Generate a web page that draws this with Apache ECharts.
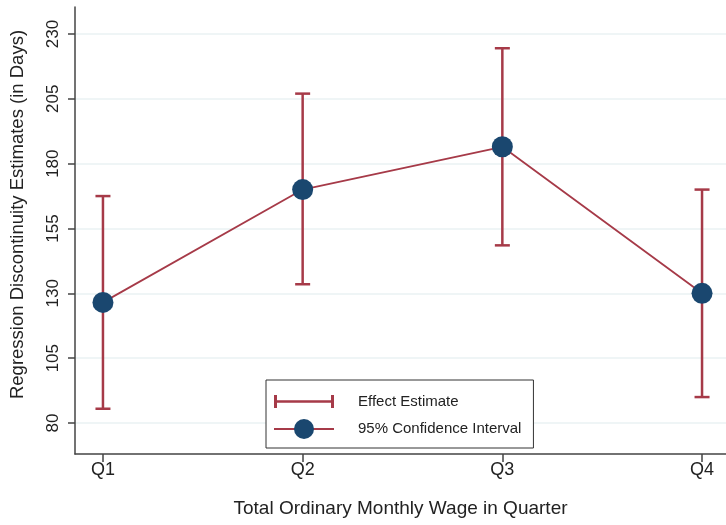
<!DOCTYPE html>
<html>
<head>
<meta charset="utf-8">
<title>Regression Discontinuity Estimates by Wage Quarter</title>
<script src="https://cdn.jsdelivr.net/npm/echarts@6/dist/echarts.min.js"></script>
<style>
    html, body { margin: 0; padding: 0; background: #ffffff; }
    #chart { width: 726px; height: 525px; }
</style>
</head>
<body>
<div id="chart"></div>
<script>
// quarters of total ordinary monthly wage
var categories = ['Q1', 'Q2', 'Q3', 'Q4'];
var positions = [1, 2, 3, 4];

// point estimates and 95% CI bounds (days)
var estimates = [126.5, 170, 186.5, 130];
var lower = [85.5, 133.5, 148.5, 90];
var upper = [167.5, 207, 224.5, 170];

var yTicks = [80, 105, 130, 155, 180, 205, 230];

var red = '#a63a48';
var navy = '#1a476f';
var font = 'Liberation Sans';

var pointData = [];
var barData = [];
for (var i = 0; i < positions.length; i++) {
    pointData.push([positions[i], estimates[i]]);
    barData.push([positions[i], lower[i], upper[i]]);
}

var renderErrorBar = function(params, api) {
    var x = api.value(0);
    var lo = api.coord([x, api.value(1)]);
    var hi = api.coord([x, api.value(2)]);
    var half = 7.5;
    var style = { stroke: red, lineWidth: 2.5, fill: null };
    return {
        type: 'group',
        children: [
            { type: 'line', shape: { x1: lo[0], y1: lo[1], x2: hi[0], y2: hi[1] }, style: style },
            { type: 'line', shape: { x1: lo[0] - half, y1: lo[1], x2: lo[0] + half, y2: lo[1] }, style: style },
            { type: 'line', shape: { x1: hi[0] - half, y1: hi[1], x2: hi[0] + half, y2: hi[1] }, style: style }
        ]
    };
};

var chart = echarts.init(document.getElementById('chart'), null, { renderer: 'canvas' });

var option = {
    backgroundColor: '#ffffff',
    animation: false,
    textStyle: { fontFamily: font },
    grid: { left: 75, right: 0, top: 7, bottom: 71, outerBoundsMode: 'none', containLabel: false },
    xAxis: {
        type: 'value',
        min: 0.86,
        max: 4.12,
        name: 'Total Ordinary Monthly Wage in Quarter',
        nameLocation: 'middle',
        nameGap: 45,
        nameTextStyle: { fontFamily: font, fontSize: 19, color: '#222222' },
        axisLine: { show: true, lineStyle: { color: '#444444', width: 1.5 } },
        axisTick: { show: true, length: 8, customValues: positions, lineStyle: { color: '#444444', width: 1.5 } },
        axisLabel: {
            customValues: positions,
            fontFamily: font,
            fontSize: 18,
            color: '#222222',
            margin: 7,
            formatter: function(v) {
                return categories[Math.round(v) - 1];
            }
        },
        splitLine: { show: false }
    },
    yAxis: {
        type: 'value',
        min: 68.05,
        max: 240.4,
        name: 'Regression Discontinuity Estimates (in Days)',
        nameLocation: 'middle',
        nameGap: 48,
        nameTextStyle: { fontFamily: font, fontSize: 18.5, color: '#222222', padding: [0, 0, 0, 32] },
        axisLine: { show: true, lineStyle: { color: '#444444', width: 1.5 } },
        axisTick: { show: true, length: 7, customValues: yTicks, lineStyle: { color: '#444444', width: 1.5 } },
        axisLabel: {
            customValues: yTicks,
            rotate: 90,
            fontFamily: font,
            fontSize: 17,
            color: '#222222',
            margin: 13
        },
        splitLine: { show: true, lineStyle: { color: '#eaf2f3', width: 1.5 } }
    },
    legend: {
        show: true,
        orient: 'vertical',
        left: 266,
        top: 380,
        padding: [9, 12, 9, 7],
        itemGap: 5,
        itemWidth: 60,
        itemHeight: 25,
        borderColor: '#333333',
        borderWidth: 1,
        backgroundColor: '#ffffff',
        textStyle: { fontFamily: font, fontSize: 15, color: '#222222', padding: [0, 0, 0, 19] },
        data: [
            {
                name: 'Effect Estimate',
                icon: 'path://M0,0 M0,6h3v13h-3z M0,11.3h60v2.4h-60z M57,6h3v13h-3z M60,25',
                itemStyle: { color: red }
            },
            { name: '95% Confidence Interval' }
        ]
    },
    series: [
        {
            name: 'Effect Estimate',
            type: 'custom',
            renderItem: renderErrorBar,
            itemStyle: { color: red },
            encode: { x: 0, y: [1, 2] },
            data: barData,
            z: 2
        },
        {
            name: '95% Confidence Interval',
            type: 'line',
            data: pointData,
            symbol: 'circle',
            symbolSize: 21,
            itemStyle: { color: navy },
            lineStyle: { color: red, width: 1.8 },
            z: 3
        }
    ]
};

chart.setOption(option);
</script>
</body>
</html>
